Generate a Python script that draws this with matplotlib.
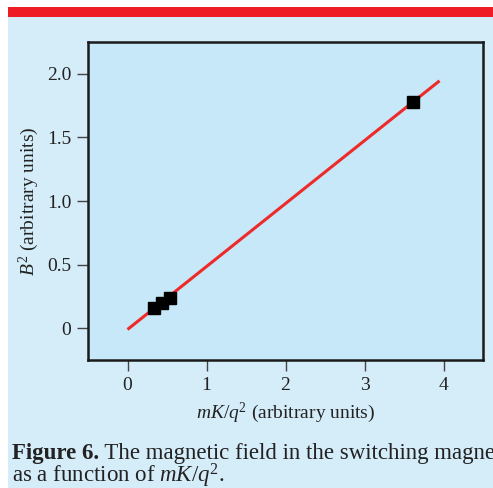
import matplotlib
matplotlib.use("Agg")
import matplotlib.pyplot as plt
from matplotlib.patches import Rectangle

# Data
x_points = [0.33, 0.44, 0.54, 3.62]
y_points = [0.155, 0.195, 0.235, 1.78]
fit_x = [0.0, 3.95]
fit_y = [-0.01, 1.945]
x_ticks = [0, 1, 2, 3, 4]
y_ticks = [0, 0.5, 1.0, 1.5, 2.0]
y_tick_labels = ["0", "0.5", "1.0", "1.5", "2.0"]

plt.rcParams['font.family'] = ['Liberation Serif', 'DejaVu Serif']
plt.rcParams['mathtext.fontset'] = 'custom'
plt.rcParams['mathtext.rm'] = 'Liberation Serif'
plt.rcParams['mathtext.it'] = 'Liberation Serif:italic'
plt.rcParams['mathtext.bf'] = 'Liberation Serif:bold'

W, H = 493, 488
fig = plt.figure(figsize=(W/100, H/100), dpi=100)
fig.patch.set_facecolor('white')

# background panel and red bar
fig.patches.append(Rectangle((8/W, 0), 1 - 8/W, (H-17)/H, transform=fig.transFigure,
                             facecolor='#D5ECF9', edgecolor='none', zorder=-2))
fig.patches.append(Rectangle((8/W, (H-17)/H), 1 - 8/W, 10/H, transform=fig.transFigure,
                             facecolor='#EE1C25', edgecolor='none', zorder=-2))

ax = fig.add_axes([88/W, (H-360)/H, (483-88)/W, (360-42)/H])
ax.set_zorder(2)
ax.set_facecolor('#C6E8F8')
ax.plot(fit_x, fit_y, color='#EE2A2A', lw=2.2, solid_capstyle='butt', zorder=2)
ax.plot(x_points, y_points, 's', color='black', ms=8.5, zorder=3)

ax.set_xlim(-0.5, 4.5)
ax.set_ylim(-0.25, 2.25)
ax.set_xticks(x_ticks)
ax.set_yticks(y_ticks)
ax.set_yticklabels(y_tick_labels)
for s in ax.spines.values():
    s.set_linewidth(1.8)
    s.set_color('#1a1a1a')
ax.tick_params(direction='out', length=8, width=1, color='#444444',
               labelsize=14, labelcolor='#222222', pad=4)

ax.set_xlabel(r'$mK/q^2$ (arbitrary units)', fontsize=14, color='#222222', labelpad=5)
ax.set_ylabel(r'$B^2$ (arbitrary units)', fontsize=14, color='#222222', labelpad=4)

cap_fs = 16.5
t1 = fig.text(12/W, (H-459)/H, 'Figure 6.', fontsize=cap_fs, fontweight='bold',
              color='#222222', ha='left', va='baseline', zorder=5)
fig.canvas.draw()
bb = t1.get_window_extent(fig.canvas.get_renderer())
fig.text(bb.x1/W, (H-459)/H, ' The magnetic field in the switching magnet',
         fontsize=cap_fs, color='#222222', ha='left', va='baseline', zorder=5)
fig.text(12/W, (H-482)/H, r'as a function of $mK/q^2$.',
         fontsize=cap_fs, color='#222222', ha='left', va='baseline', zorder=5)

fig.savefig('out.png', dpi=100, facecolor=fig.get_facecolor())
